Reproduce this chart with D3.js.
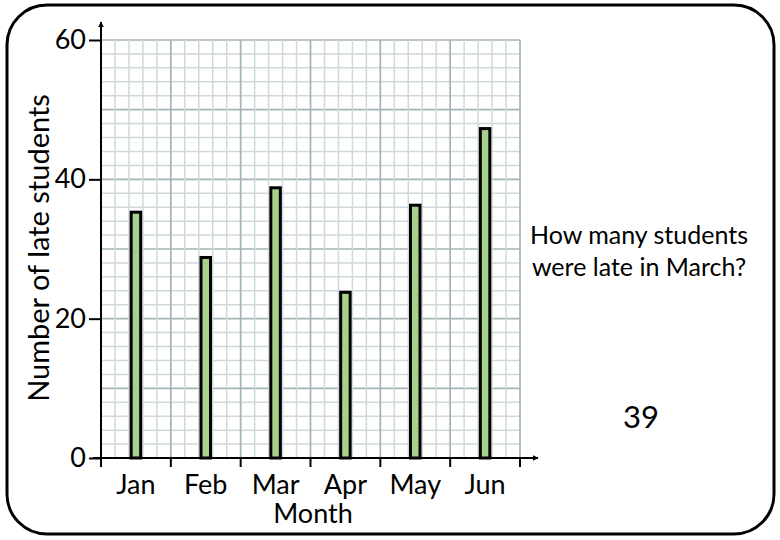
<!DOCTYPE html>
<html>
<head>
<meta charset="utf-8">
<script src="https://cdn.jsdelivr.net/npm/d3@7"></script>
<style>
  html, body { margin: 0; padding: 0; background: #fff; }
  svg { display: block; font-family: Lato, "Open Sans", sans-serif; }
</style>
</head>
<body>
<svg id="chart" width="780" height="540"></svg>
<script>
var months = ['Jan', 'Feb', 'Mar', 'Apr', 'May', 'Jun'];
var lateStudents = [35.5, 29, 39, 24, 36.5, 47.5];
var yTicks = [0, 20, 40, 60];
var questionLines = ['How many students', 'were late in March?'];
var answer = '39';

(function () {
    var svg = d3.select('#chart');

    var left = 101, right = 520, top = 40, bottom = 458;

    var xScale = d3.scaleBand().domain(months).range([left, right]).padding(0);
    // same span, but in "band units" for the grid and the tick marks
    var xUnit = d3.scaleLinear().domain([0, months.length]).range([left, right]);
    var yScale = d3.scaleLinear().domain([0, 60]).range([bottom, top]);

    // rounded frame
    svg.append('rect')
        .attr('x', 7).attr('y', 5)
        .attr('width', 767).attr('height', 529)
        .attr('rx', 40).attr('ry', 40)
        .attr('fill', 'none')
        .attr('stroke', '#000')
        .attr('stroke-width', 3);

    // grid paper
    var grid = svg.append('g');
    d3.range(0, 60.01, 2).forEach(function (v) {
        grid.append('line')
            .attr('x1', left).attr('x2', right)
            .attr('y1', yScale(v)).attr('y2', yScale(v))
            .attr('stroke', v % 10 === 0 ? '#a3b4b6' : '#d0d9da')
            .attr('stroke-width', v % 10 === 0 ? 1.7 : 1.5);
    });
    d3.range(0, 30.5, 1).forEach(function (i) {
        var u = i / 5;
        grid.append('line')
            .attr('x1', xUnit(u)).attr('x2', xUnit(u))
            .attr('y1', top).attr('y2', bottom)
            .attr('stroke', i % 5 === 0 ? '#a3b4b6' : '#d0d9da')
            .attr('stroke-width', i % 5 === 0 ? 1.7 : 1.5);
    });

    // bars
    var barW = 9.5, sw = 3;
    svg.append('g')
        .selectAll('rect')
        .data(lateStudents)
        .enter()
        .append('rect')
        .attr('x', function (d, i) { return xScale(months[i]) + xScale.bandwidth() / 2 - barW / 2; })
        .attr('y', function (d) { return yScale(d) + sw / 2; })
        .attr('width', barW)
        .attr('height', function (d) { return yScale(0) - yScale(d) - sw / 2; })
        .attr('fill', '#a9d18e')
        .attr('stroke', '#000')
        .attr('stroke-width', sw);

    // arrow head
    svg.append('defs').append('marker')
        .attr('id', 'arrow')
        .attr('viewBox', '0 0 10 10')
        .attr('refX', 9).attr('refY', 5)
        .attr('markerWidth', 6).attr('markerHeight', 6)
        .attr('markerUnits', 'userSpaceOnUse')
        .attr('orient', 'auto')
        .append('path')
        .attr('d', 'M0,0 L10,5 L0,10 Z')
        .attr('fill', '#000');

    // y axis
    var yAxis = svg.append('g')
        .attr('transform', 'translate(' + left + ',0)')
        .call(d3.axisLeft(yScale).tickValues(yTicks).tickSize(12).tickPadding(3));
    yAxis.select('.domain').remove();
    yAxis.selectAll('.tick line').attr('stroke', '#000').attr('stroke-width', 2);
    yAxis.selectAll('.tick text')
        .attr('font-family', 'Lato, sans-serif')
        .attr('font-size', 27)
        .attr('fill', '#000');
    svg.append('line')
        .attr('x1', left).attr('x2', left)
        .attr('y1', bottom + 8).attr('y2', 22)
        .attr('stroke', '#000').attr('stroke-width', 2)
        .attr('marker-end', 'url(#arrow)');

    // x axis
    var xAxis = svg.append('g')
        .attr('transform', 'translate(0,' + bottom + ')')
        .call(d3.axisBottom(xScale).tickSize(0).tickPadding(17));
    xAxis.select('.domain').remove();
    xAxis.selectAll('.tick text')
        .attr('font-family', 'Lato, sans-serif')
        .attr('font-size', 27)
        .attr('fill', '#000');
    svg.append('g')
        .selectAll('line')
        .data(d3.range(0, months.length + 1))
        .enter()
        .append('line')
        .attr('x1', function (d) { return xUnit(d); })
        .attr('x2', function (d) { return xUnit(d); })
        .attr('y1', bottom).attr('y2', bottom + 9)
        .attr('stroke', '#000').attr('stroke-width', 2);
    svg.append('line')
        .attr('x1', left - 8).attr('x2', 538)
        .attr('y1', bottom).attr('y2', bottom)
        .attr('stroke', '#000').attr('stroke-width', 2)
        .attr('marker-end', 'url(#arrow)');

    // axis titles
    svg.append('text')
        .attr('x', 313)
        .attr('y', 523)
        .attr('text-anchor', 'middle')
        .attr('font-size', 27)
        .text('Month');

    svg.append('text')
        .attr('transform', 'translate(49,248) rotate(-90)')
        .attr('text-anchor', 'middle')
        .attr('font-size', 29)
        .text('Number of late students');

    // question and answer
    var q = svg.append('text')
        .attr('text-anchor', 'middle')
        .attr('font-size', 25);
    questionLines.forEach(function (line, i) {
        q.append('tspan')
            .attr('x', 639)
            .attr('y', 244 + i * 32)
            .text(line);
    });

    svg.append('text')
        .attr('x', 641)
        .attr('y', 428)
        .attr('text-anchor', 'middle')
        .attr('font-size', 31)
        .text(answer);
})();
</script>
</body>
</html>
